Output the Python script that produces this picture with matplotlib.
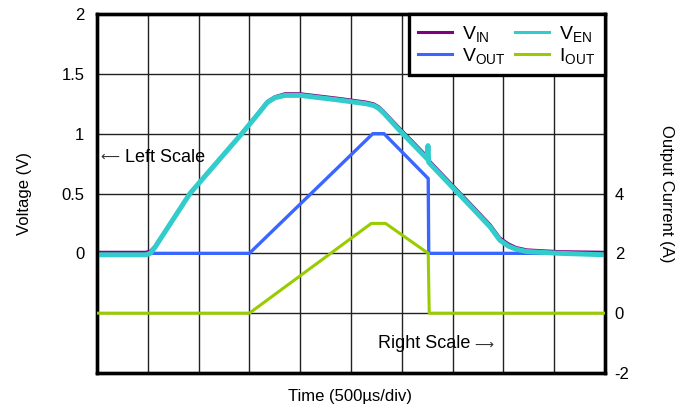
import matplotlib
matplotlib.use("Agg")
import matplotlib.pyplot as plt

plt.rcParams['font.family'] = ['Liberation Sans', 'DejaVu Sans']
plt.rcParams['mathtext.fontset'] = 'custom'
plt.rcParams['mathtext.rm'] = 'Liberation Sans'
plt.rcParams['mathtext.it'] = 'Liberation Sans'

# time in divisions (500 us/div)
ven_t = [0, 0.96, 1.05, 1.14, 1.83, 2.85, 3.20, 3.35, 3.50, 3.70, 4.0, 4.78, 5.30, 5.45,
         5.55, 5.65, 5.95, 6.50, 6.515, 6.53, 7.34, 7.74, 7.93, 8.10, 8.25, 8.46, 9.11, 10]
ven_v = [-0.012, -0.012, 0.0, 0.05, 0.5, 1.0, 1.18, 1.26, 1.30, 1.32, 1.32, 1.28, 1.25, 1.235,
         1.21, 1.17, 1.03, 0.79, 0.90, 0.76, 0.40, 0.22, 0.11, 0.06, 0.035, 0.015, 0.0, -0.012]
vin_t = [0, 0.96, 1.05, 1.14, 1.83, 2.85, 3.20, 3.35, 3.50, 3.70, 4.0, 4.78, 5.30, 5.45,
         5.55, 5.65, 5.95, 6.50, 6.515, 6.53, 7.34, 7.74, 7.93, 8.10, 8.25, 8.46, 9.11, 10]
vin_v = [0.010, 0.010, 0.02, 0.06, 0.505, 1.005, 1.19, 1.27, 1.31, 1.335, 1.335, 1.295, 1.265, 1.25,
         1.225, 1.185, 1.05, 0.81, 0.90, 0.78, 0.42, 0.24, 0.13, 0.08, 0.05, 0.03, 0.015, 0.010]
vout_t = [0, 3.0, 5.43, 5.65, 6.52, 6.53, 10]
vout_v = [0, 0, 1.0, 1.0, 0.625, 0.0, 0.0]
iout_t = [0, 3.0, 5.40, 5.68, 6.52, 6.54, 10]
iout_a = [0, 0, 3.0, 3.0, 2.0, 0.0, 0.0]

left_ticks = [-1, -0.5, 0, 0.5, 1, 1.5, 2]
left_labels = ['', '', '0', '0.5', '1', '1.5', '2']
right_ticks = [-2, 0, 2, 4]
right_labels = ['-2', '0', '2', '4']

fig = plt.figure(figsize=(6.77, 4.09), dpi=100)
ax = fig.add_axes([97/677, 1-373/409, (605-97)/677, (373-14)/409])
ax2 = ax.twinx()

ax.set_xlim(0, 10)
ax.set_ylim(-1, 2)
ax2.set_ylim(-2, 10)

ax.set_xticks(range(0, 11))
ax.set_xticklabels([])
ax.set_yticks(left_ticks)
ax.set_yticklabels(left_labels)
ax2.set_yticks(right_ticks)
ax2.set_yticklabels(right_labels)

ax.tick_params(axis='both', length=0, labelsize=12, pad=9)
ax2.tick_params(axis='y', length=0, labelsize=12, pad=7)
ax.grid(True, color='#222222', linewidth=1.0)
ax.set_axisbelow(True)

for a in (ax, ax2):
    for s in a.spines.values():
        s.set_linewidth(2.4)
        s.set_color('black')

l_vout, = ax.plot(vout_t, vout_v, color='#3a66ff', linewidth=2.4, zorder=3)
l_vin, = ax.plot(vin_t, vin_v, color='#800080', linewidth=2.0, zorder=4)
l_ven, = ax.plot(ven_t, ven_v, color='#33cccc', linewidth=3.6, zorder=5,
                 solid_joinstyle='round')
l_iout, = ax2.plot(iout_t, iout_a, color='#99cc00', linewidth=2.2, zorder=3)

ax.text(0.06, 0.8, '\u27f5', fontsize=9.5, va='center', ha='left', zorder=6,
        family=['DejaVu Sans'], color='#333333')
ax.text(0.55, 0.8, 'Left Scale', fontsize=13, va='center', ha='left', zorder=6)
ax.text(5.53, -0.75, 'Right Scale', fontsize=13, va='center', ha='left', zorder=6)
ax.text(7.42, -0.77, '\u27f6', fontsize=9.5, va='center', ha='left', zorder=6,
        family=['DejaVu Sans'], color='#333333')

ax.set_ylabel('Voltage (V)', fontsize=12, labelpad=21)
ax2.set_ylabel('Output Current (A)', fontsize=12, rotation=270, labelpad=32)
fig.text(350/677, 1-397/409, 'Time (500\u00b5s/div)', fontsize=12, ha='center', va='center')

handles = [l_vin, l_vout, l_ven, l_iout]
labels = [r'$\mathrm{V_{IN}}$', r'$\mathrm{V_{OUT}}$', r'$\mathrm{V_{EN}}$', r'$\mathrm{I_{OUT}}$']
leg = ax2.legend(handles, labels, loc='upper right', bbox_to_anchor=(1, 1), ncol=2,
                 fontsize=14, frameon=True, fancybox=False, framealpha=1,
                 edgecolor='black', borderaxespad=0, borderpad=0.5,
                 handlelength=1.75, handletextpad=0.5, columnspacing=0.5,
                 labelspacing=0.1)
leg.get_frame().set_linewidth(2.4)
for h in leg.get_lines():
    h.set_linewidth(2.2)
leg.set_zorder(10)

fig.savefig('out.png', dpi=100)
